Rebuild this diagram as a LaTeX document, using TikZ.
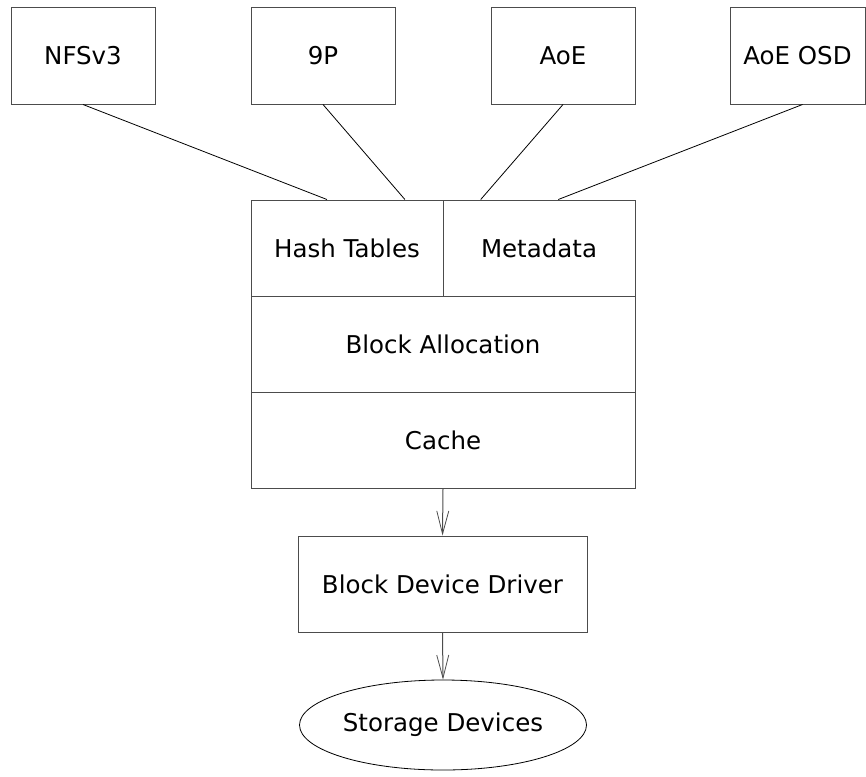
\documentclass[tikz,border=0pt]{standalone}
\usepackage{fontspec}
\setmainfont{DejaVu Sans}
\usetikzlibrary{calc,arrows.meta,shapes.geometric}
\begin{document}
\begin{tikzpicture}[x=1pt,y=-1pt,
  box/.style={draw=black!70,line width=1pt,rectangle,inner sep=0pt,font=\fontsize{24.5}{28}\selectfont},
  conn/.style={draw=black,line width=0.8pt},
  arr/.style={draw=black!70,line width=1pt,-{Straight Barb[length=23pt,width=12pt,line width=0.8pt]}}]
\useasboundingbox (0,0) rectangle (866,776);
\node[box,minimum width=144pt,minimum height=96pt] (nfs) at (83,56) {NFSv3};
\node[box,minimum width=144pt,minimum height=96pt] (ninep) at (323,56) {9P};
\node[box,minimum width=144pt,minimum height=96pt] (aoe) at (563,56) {AoE};
\node[box,minimum width=135pt,minimum height=96pt] (osd) at (797.5,56) {AoE OSD};
\node[box,minimum width=192pt,minimum height=96pt] (hash) at (347,248) {Hash Tables};
\node[box,minimum width=192pt,minimum height=96pt] (meta) at (539,248) {Metadata};
\node[box,minimum width=384pt,minimum height=96pt] (alloc) at (443,344) {Block Allocation};
\node[box,minimum width=384pt,minimum height=96pt] (cache) at (443,440) {Cache};
\node[box,minimum width=289pt,minimum height=96pt] (bdd) at (442.5,584) {Block Device Driver};
\node[box,ellipse,draw=black,line width=0.8pt,minimum width=287pt,minimum height=90pt] (stor) at (443,725) {Storage Devices};
\draw[conn] (nfs.south) -- ($(hash.north west)!0.396!(hash.north east)$);
\draw[conn] (ninep.south) -- ($(hash.north west)!0.80!(hash.north east)$);
\draw[conn] (aoe.south) -- ($(meta.north west)!0.198!(meta.north east)$);
\draw[conn] ($(osd.south)+(5,0)$) -- ($(meta.north west)!0.60!(meta.north east)$);
\draw[arr] (cache.south) -- (bdd.north);
\draw[arr] (bdd.south) -- (stor.north);
\end{tikzpicture}
\end{document}
